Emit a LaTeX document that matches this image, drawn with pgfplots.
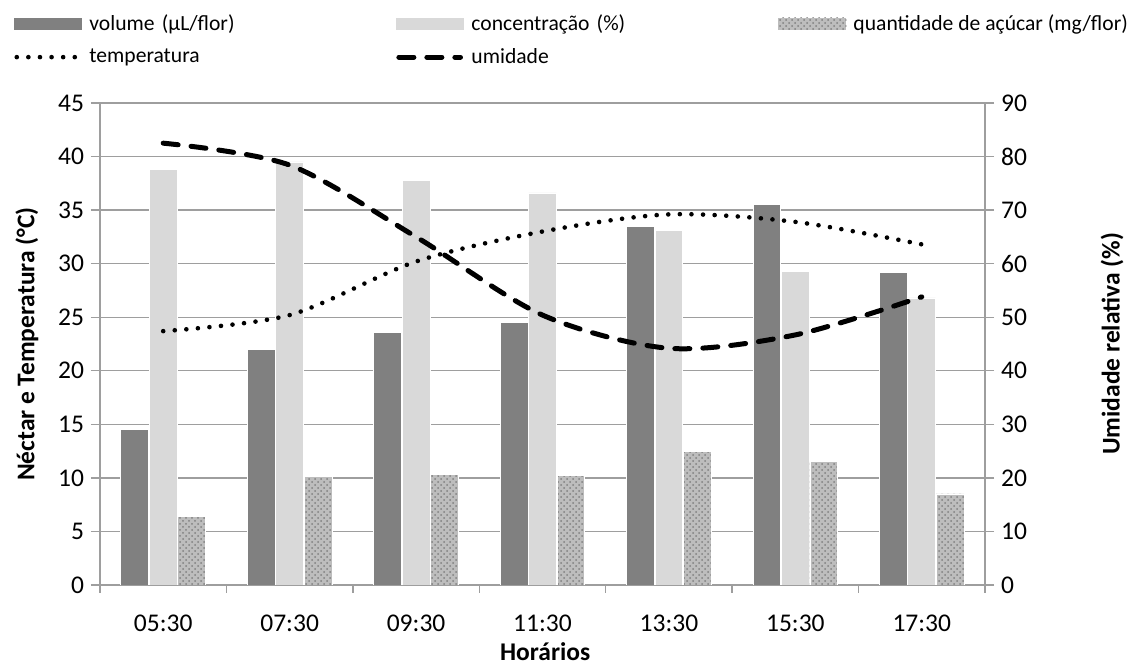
\documentclass[border=0pt]{standalone}
\usepackage{pgfplots}
\pgfplotsset{compat=1.18}
\usetikzlibrary{patterns}
\usepackage{fontspec}
\setmainfont{Carlito}

\definecolor{volc}{HTML}{808080}
\definecolor{concc}{HTML}{D9D9D9}
\definecolor{gridc}{HTML}{9E9E9E}

\newcommand{\chartfont}{\fontsize{12.75}{14}\selectfont}
\newcommand{\legfont}{\fontsize{10.8}{12.5}\selectfont}

\pgfplotsset{
  common/.style={
    scale only axis, width=442.5pt, height=241pt,
    xmin=-0.5, xmax=6.5,
    tick align=outside,
    axis line style={gridc, line width=0.7pt},
    tick style={gridc, line width=0.7pt},
    major tick length=4.5pt, minor tick length=4pt,
    tick label style={font=\chartfont},
    /pgf/number format/assume math mode=true,
  },
  barlegend/.style={legend image code/.code={\fill[##1] (0pt,-3pt) rectangle (34pt,3pt);}},
  linelegend/.style={legend image code/.code={\draw[##1] (1.2pt,0pt) -- (32pt,0pt);}},
  sugar/.style={fill=gray!52, postaction={pattern=crosshatch dots, pattern color=gray!100}},
  templine/.style={black, line width=2.3pt, line cap=round, dash pattern=on 0pt off 5.8pt},
  humline/.style={black, line width=2.5pt, line cap=round, dash pattern=on 7.5pt off 6.5pt},
}

\begin{document}
\begin{tikzpicture}
\path[use as bounding box] (-50pt,-41.5pt) rectangle (514pt,292.5pt);
% left axis: nectar bars and temperature
\begin{axis}[common,
  ymin=0, ymax=45, ytick={0,5,...,45},
  xtick={0,...,6},
  xticklabels={05:30,07:30,09:30,11:30,13:30,15:30,17:30},
  xticklabel style={yshift=-7pt},
  minor xtick={-0.5,0.5,...,6.5},
  major x tick style={draw=none},
  axis x line*=bottom, axis y line*=left,
  ymajorgrids, grid style={gridc, line width=0.7pt},
  xlabel={Horários},
  ylabel={Néctar e Temperatura (°C)},
  every axis x label/.style={at={(axis description cs:0.503,-0.139)}, anchor=center, font=\chartfont\bfseries},
  every axis y label/.style={at={(axis description cs:-0.0825,0.5)}, rotate=90, anchor=center, font=\chartfont\bfseries},
]
\addplot[ybar, bar width=0.22, bar shift=-0.225, fill=volc, draw=white, line width=0.4pt]
  coordinates {(0,14.5) (1,22.0) (2,23.6) (3,24.5) (4,33.5) (5,35.5) (6,29.2)};
\addplot[ybar, bar width=0.22, bar shift=0, fill=concc, draw=white, line width=0.4pt]
  coordinates {(0,38.8) (1,39.5) (2,37.8) (3,36.6) (4,33.1) (5,29.3) (6,26.8)};
\addplot[ybar, bar width=0.22, bar shift=0.225, sugar, draw=white, line width=0.4pt]
  coordinates {(0,6.4) (1,10.1) (2,10.3) (3,10.2) (4,12.5) (5,11.5) (6,8.5)};
\addplot[templine, smooth]
  coordinates {(0,23.7) (1,25.2) (2,30.2) (3,33.0) (4,34.6) (5,33.9) (6,31.8)};
\end{axis}
% right axis: relative humidity
\begin{axis}[common,
  ymin=0, ymax=90, ytick={0,10,...,90},
  axis x line=none, axis y line*=right,
  ylabel={Umidade relativa (\%)},
  every axis y label/.style={at={(axis description cs:1.1435,0.5)}, rotate=90, anchor=center, font=\chartfont\bfseries},
  legend columns=3,
  legend cell align=left,
  legend style={at={(axis description cs:-0.0972,1.191)}, anchor=north west,
    draw=none, fill=none, inner sep=0pt, font=\legfont,
    nodes={inner sep=1.5pt, align=left},
    /tikz/every odd column/.append style={column sep=2pt},
    /tikz/every even column/.append style={column sep=0pt},
    row sep=4.5pt},
]
\addlegendimage{barlegend, fill=volc, draw=none}
\addlegendentry[text width=152pt]{volume (µL/flor)}
\addlegendimage{barlegend, fill=concc, draw=none}
\addlegendentry[text width=152pt]{concentração (\%)}
\addlegendimage{barlegend, sugar, draw=none}
\addlegendentry{quantidade de açúcar (mg/flor)}
\addlegendimage{linelegend, templine}
\addlegendentry[text width=152pt]{temperatura}
\addplot[linelegend, humline, smooth]
  coordinates {(0,82.5) (1,78.4) (2,65.0) (3,50.4) (4,44.2) (5,46.7) (6,53.8)};
\addlegendentry[text width=152pt]{umidade}
\end{axis}
\end{tikzpicture}
\end{document}
